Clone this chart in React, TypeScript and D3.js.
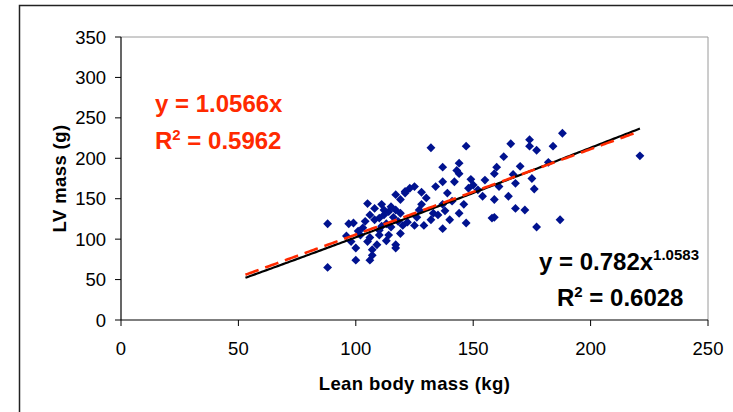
import React from "react";
import * as d3 from "d3";

const xTicks = [0, 50, 100, 150, 200, 250];
const yTicks = [0, 50, 100, 150, 200, 250, 300, 350];

const leanMass = [
  88, 88, 97, 98, 100, 100, 99, 96, 101, 103, 102, 105, 105, 106, 107, 107, 106, 108, 110, 110, 110, 111, 112, 113, 114, 115, 114, 116, 117, 117, 117, 117, 119, 119, 121, 119, 108, 104, 112, 115, 113, 109, 118, 120, 111, 106,
  122, 125, 129, 132, 135, 140, 137, 144, 147, 158, 127, 128, 137, 141, 154, 125, 128, 121, 134, 139, 137, 142, 149, 150, 143, 144, 144, 137, 132, 147, 123, 130, 148, 152, 133, 126, 146, 138,
  159, 159, 159, 160, 161, 163, 166, 167, 168, 168, 170, 172, 174, 174, 175, 176, 177, 177, 182, 184, 187, 188, 221, 165, 155,
];
const lvMass = [
  119, 65, 119, 97, 89, 74, 120, 104, 110, 114, 105, 144, 97, 74, 80, 87, 130, 138, 105, 111, 126, 143, 136, 119, 134, 115, 105, 127, 155, 136, 93, 89, 107, 149, 159, 132, 124, 122, 130, 140, 98, 93, 122, 117, 116, 102,
  121, 117, 117, 124, 130, 124, 113, 132, 120, 126, 136, 143, 143, 147, 153, 165, 158, 157, 165, 157, 171, 171, 174, 167, 185, 181, 194, 189, 213, 215, 163, 151, 163, 161, 132, 127, 143, 135,
  181, 149, 127, 189, 165, 202, 218, 180, 169, 138, 190, 136, 223, 215, 175, 162, 210, 115, 195, 215, 124, 231, 203, 153, 173,
];

const linearSlope = 1.0566;
const powerCoef = 0.782;
const powerExp = 1.0583;
const fitRange = [53, 221];

const W = 733;
const H = 412;
const left = 121;
const right = 708;
const top = 37;
const bottom = 320;

const font = "'Liberation Sans', Arial, sans-serif";

export default function App() {
  const x = d3.scaleLinear().domain([0, 250]).range([left, right]);
  const y = d3.scaleLinear().domain([0, 350]).range([bottom, top]);

  const xs = d3.range(fitRange[0], fitRange[1] + 0.01, 1);
  const linLine = d3
    .line<number>()
    .x((d) => x(d))
    .y((d) => y(linearSlope * d));
  const powLine = d3
    .line<number>()
    .x((d) => x(d))
    .y((d) => y(powerCoef * Math.pow(d, powerExp)));

  const diamond = d3.symbol().type(d3.symbolDiamond2).size(50)();

  return (
    <svg
      width={W}
      height={H}
      style={{ position: "absolute", left: 0, top: 0, background: "#fff" }}
    >
      <rect x={19.5} y={5.5} width={800} height={500} fill="#fff" stroke="#222" strokeWidth={1.5} />
      <path d={`M${left},${top}H${right}V${bottom}`} fill="none" stroke="#9a9a9a" strokeWidth={1} />
      <line x1={left} y1={top} x2={left} y2={bottom} stroke="#000" strokeWidth={1.2} />
      <line x1={left} y1={bottom} x2={right} y2={bottom} stroke="#000" strokeWidth={1.2} />
      {yTicks.map((t) => (
        <g key={"y" + t}>
          <line x1={left - 6} x2={left} y1={y(t)} y2={y(t)} stroke="#000" />
          <text x={left - 15} y={y(t) + 6.5} textAnchor="end" fontFamily={font} fontSize={18.5} fill="#000">
            {t}
          </text>
        </g>
      ))}
      {xTicks.map((t) => (
        <g key={"x" + t}>
          <line x1={x(t)} x2={x(t)} y1={bottom} y2={bottom + 6} stroke="#000" />
          <text x={x(t)} y={355} textAnchor="middle" fontFamily={font} fontSize={18.5} fill="#000">
            {t}
          </text>
        </g>
      ))}
      <text
        x={(left + right) / 2}
        y={390}
        textAnchor="middle"
        fontFamily={font}
        fontWeight="bold"
        fontSize={18.5}
        letterSpacing={0.4}
        fill="#000"
      >
        Lean body mass (kg)
      </text>
      <text
        transform={`translate(66,${(top + bottom) / 2}) rotate(-90)`}
        textAnchor="middle"
        fontFamily={font}
        fontWeight="bold"
        fontSize={18.5}
        letterSpacing={0.4}
        fill="#000"
      >
        LV mass (g)
      </text>
      {leanMass.map((lm, i) => (
        <path
          key={"p" + i}
          d={diamond as string}
          transform={`translate(${x(lm)},${y(lvMass[i])})`}
          fill="#00128f"
        />
      ))}
      <path d={powLine(xs) as string} fill="none" stroke="#000" strokeWidth={2.2} />
      <path
        d={linLine(xs) as string}
        fill="none"
        stroke="#ff2a00"
        strokeWidth={2.6}
        strokeDasharray="14,7"
      />
      <text x={155} y={112} fontFamily={font} fontWeight="bold" fontSize={24} fill="#ff2a00">
        y = 1.0566x
      </text>
      <text x={155} y={149} fontFamily={font} fontWeight="bold" fontSize={24} fill="#ff2a00">
        R<tspan dy={-9} fontSize={15}>2</tspan>
        <tspan dy={9}> = 0.5962</tspan>
      </text>
      <text x={539} y={270} fontFamily={font} fontWeight="bold" fontSize={24} fill="#000">
        y = 0.782x<tspan dy={-10} fontSize={15}>1.0583</tspan>
      </text>
      <text x={557} y={306} fontFamily={font} fontWeight="bold" fontSize={24} fill="#000">
        R<tspan dy={-9} fontSize={15}>2</tspan>
        <tspan dy={9}> = 0.6028</tspan>
      </text>
    </svg>
  );
}
